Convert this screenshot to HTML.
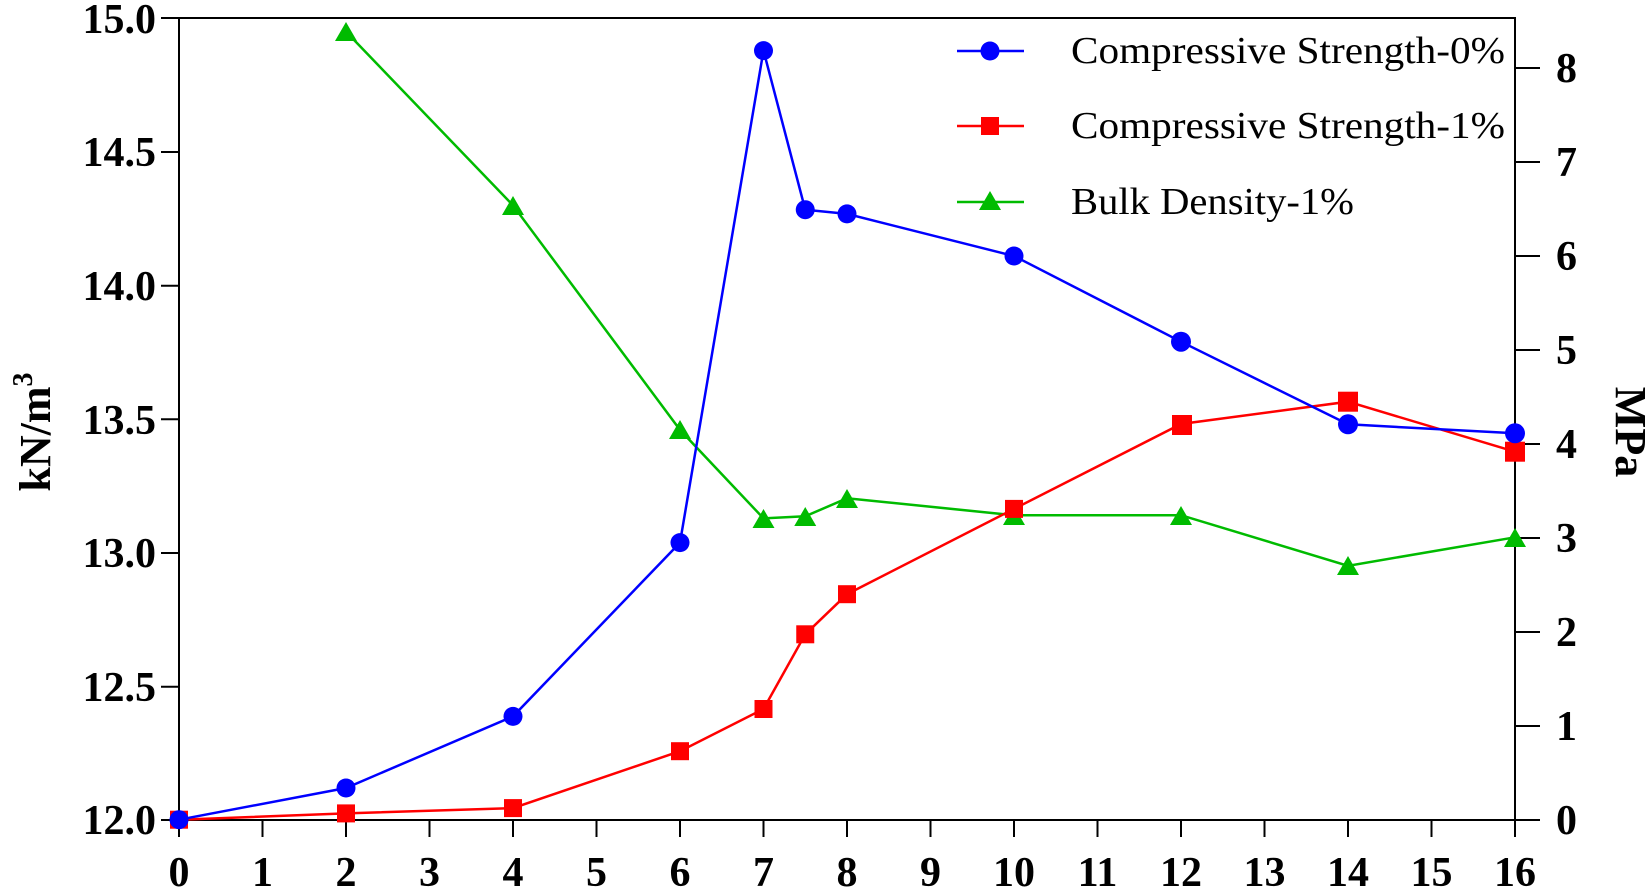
<!DOCTYPE html>
<html><head><meta charset="utf-8"><style>body{margin:0;background:#fff}svg{display:block}</style></head><body>
<svg width="1652" height="892" xmlns="http://www.w3.org/2000/svg" font-family="Liberation Serif, serif">
<g stroke="#000" stroke-width="2" fill="none">
<rect x="179" y="18" width="1336" height="802"/>
<path d="M161 18H179M161 152H179M161 285.7H179M161 419.3H179M161 553H179M161 686.7H179M161 820H179"/>
<path d="M1515 820H1540M1515 726H1540M1515 632H1540M1515 538H1540M1515 444H1540M1515 350H1540M1515 256H1540M1515 162H1540M1515 68H1540"/>
<path d="M179 820V837M262.5 820V837M346 820V837M429.5 820V837M513 820V837M596.5 820V837M680 820V837M763.5 820V837M847 820V837M930.5 820V837M1014 820V837M1097.5 820V837M1181 820V837M1264.5 820V837M1348 820V837M1431.5 820V837M1515 820V837"/>
</g>
<g font-size="42" font-weight="bold" text-anchor="end">
<text x="156" y="33">15.0</text><text x="156" y="166">14.5</text><text x="156" y="300">14.0</text><text x="156" y="434">13.5</text><text x="156" y="567">13.0</text><text x="156" y="701">12.5</text><text x="156" y="834">12.0</text>
</g>
<g font-size="42" font-weight="bold" text-anchor="start">
<text x="1556" y="834">0</text><text x="1556" y="740">1</text><text x="1556" y="646">2</text><text x="1556" y="552">3</text><text x="1556" y="458">4</text><text x="1556" y="364">5</text><text x="1556" y="270">6</text><text x="1556" y="176">7</text><text x="1556" y="82">8</text>
</g>
<g font-size="42" font-weight="bold" text-anchor="middle">
<text x="179" y="886">0</text><text x="262.5" y="886">1</text><text x="346" y="886">2</text><text x="429.5" y="886">3</text><text x="513" y="886">4</text><text x="596.5" y="886">5</text><text x="680" y="886">6</text><text x="763.5" y="886">7</text><text x="847" y="886">8</text><text x="930.5" y="886">9</text><text x="1014" y="886">10</text><text x="1097.5" y="886">11</text><text x="1181" y="886">12</text><text x="1264.5" y="886">13</text><text x="1348" y="886">14</text><text x="1431.5" y="886">15</text><text x="1515" y="886">16</text>
</g>
<text transform="translate(50,432) rotate(-90)" font-size="44" font-weight="bold" text-anchor="middle">kN/m<tspan font-size="28" dy="-18">3</tspan></text>
<text transform="translate(1616,432) rotate(90)" font-size="44" font-weight="bold" text-anchor="middle">MPa</text>
<polyline fill="none" stroke="#00bb00" stroke-width="2.5" points="346,31.6 513,205.4 680,429.9 763.5,518.4 805.25,516.3 847,498.3 1014,515.2 1181,515.2 1348,565.8 1515,537.3"/>
<polyline fill="none" stroke="#ff0000" stroke-width="2.5" points="179,819.7 346,813.4 513,808.1 680,751.2 763.5,709 805.25,634.3 847,594.2 1014,508.9 1181,424 1348,401.7 1515,451.7"/>
<polyline fill="none" stroke="#0000ff" stroke-width="2.5" points="179,819.7 346,788 513,716.4 680,542.6 763.5,50.6 805.25,209.7 847,213.9 1014,256 1181,341.7 1348,424.3 1515,433.3"/>
<g fill="#00bb00">
<path d="M346 22l11 19h-22z M513 196l11 19h-22z M680 420l11 19h-22z M763.5 509l11 19h-22z M805.25 507l11 19h-22z M847 489l11 19h-22z M1014 506l11 19h-22z M1181 506l11 19h-22z M1348 556l11 19h-22z M1515 528l11 19h-22z"/>
</g>
<g fill="#ff0000">
<rect x="170" y="810.7" width="18" height="18"/><rect x="337" y="804.4" width="18" height="18"/><rect x="504" y="799.1" width="18" height="18"/><rect x="671" y="742.2" width="18" height="18"/><rect x="754.5" y="700" width="18" height="18"/><rect x="796.25" y="625.3" width="18" height="18"/><rect x="838" y="585.2" width="18" height="18"/><rect x="1005" y="499.9" width="18" height="18"/><rect x="1172" y="415" width="20" height="20"/><rect x="1338" y="391.7" width="20" height="20"/><rect x="1505" y="441.7" width="20" height="20"/>
</g>
<g fill="#0000ff">
<circle cx="179" cy="819.7" r="9.5"/><circle cx="346" cy="788" r="9.5"/><circle cx="513" cy="716.4" r="9.5"/><circle cx="680" cy="542.6" r="9.5"/><circle cx="763.5" cy="50.6" r="9.5"/><circle cx="805.25" cy="209.7" r="9.5"/><circle cx="847" cy="213.9" r="9.5"/><circle cx="1014" cy="256" r="9.5"/><circle cx="1181" cy="341.7" r="10"/><circle cx="1348" cy="424.3" r="10"/><circle cx="1515" cy="433.3" r="10"/>
</g>
<g stroke-width="2.5">
<line x1="957" y1="51" x2="1024" y2="51" stroke="#0000ff"/><circle cx="990" cy="51" r="9.5" fill="#0000ff"/>
<line x1="957" y1="126" x2="1024" y2="126" stroke="#ff0000"/><rect x="981" y="117" width="18" height="18" fill="#ff0000"/>
<line x1="957" y1="202" x2="1024" y2="202" stroke="#00bb00"/><path d="M990 191l11 19h-22z" fill="#00bb00"/>
</g>
<g font-size="38">
<text x="1071" y="63" textLength="434" lengthAdjust="spacingAndGlyphs">Compressive Strength-0%</text>
<text x="1071" y="138" textLength="434" lengthAdjust="spacingAndGlyphs">Compressive Strength-1%</text>
<text x="1071" y="214" textLength="283" lengthAdjust="spacingAndGlyphs">Bulk Density-1%</text>
</g>
</svg>
</body></html>
